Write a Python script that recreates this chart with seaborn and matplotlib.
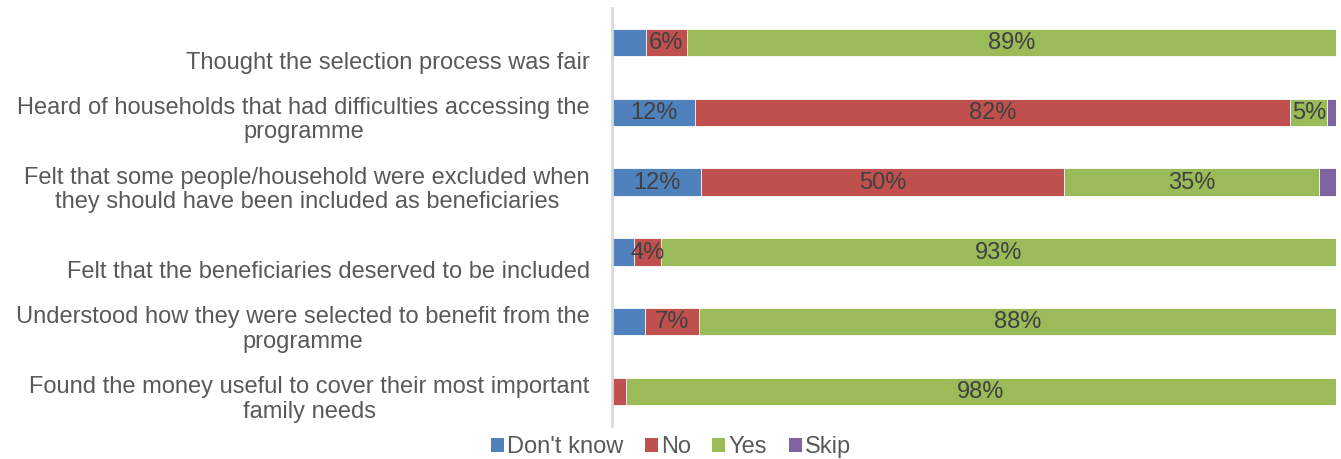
import matplotlib
matplotlib.use("Agg")
import matplotlib.pyplot as plt
import matplotlib.transforms as mtransforms
from matplotlib.patches import Patch
import seaborn as sns
import pandas as pd
import numpy as np

categories = [
    "Thought the selection process was fair",
    "Heard of households that had difficulties accessing the\nprogramme",
    "Felt that some people/household were excluded when\nthey should have been included as beneficiaries",
    "Felt that the beneficiaries deserved to be included",
    "Understood how they were selected to benefit from the\nprogramme",
    "Found the money useful to cover their most important\nfamily needs",
]
series = ["Don't know", "No", "Yes", "Skip"]
dont_know = [4.7, 11.5, 12.3, 3.0, 4.6, 0.0]
no = [5.6, 82.2, 50.1, 3.8, 7.4, 1.9]
yes = [89.7, 5.1, 35.3, 93.2, 88.0, 98.1]
skip = [0.0, 1.2, 2.3, 0.0, 0.0, 0.0]
# labels shown in the chart (None = not shown)
label_dk = [None, "12%", "12%", None, None, None]
label_no = ["6%", "82%", "50%", "4%", "7%", None]
label_yes = ["89%", "5%", "35%", "93%", "88%", "98%"]
label_skip = [None, None, None, None, None, None]

colors = ["#4F81BD", "#C0504D", "#9BBB59", "#8064A2"]

values = [dont_know, no, yes, skip]
labels = [label_dk, label_no, label_yes, label_skip]

sns.set_theme(style="white")
plt.rcParams["font.family"] = ["Liberation Sans", "DejaVu Sans"]

FS = 17

fig = plt.figure(figsize=(13.41, 4.59), dpi=100)
ax = fig.add_axes([612 / 1341, 1 - 426.4 / 459, (1336 - 612) / 1341, (426.4 - 7.6) / 459])

cum = np.cumsum(np.array(values), axis=0)
# draw cumulative totals from the outermost segment inward
for i in range(len(series) - 1, -1, -1):
    df = pd.DataFrame({"cat": categories, "val": cum[i]})
    sns.barplot(data=df, y="cat", x="val", orient="h", color=colors[i],
                width=0.39, saturation=1, ax=ax, edgecolor="white", linewidth=0.6)

left = np.zeros(len(categories))
for i in range(len(series)):
    for j in range(len(categories)):
        if labels[i][j]:
            ax.text(left[j] + values[i][j] / 2, j + 0.01, labels[i][j], ha="center", va="center",
                    fontsize=FS, color="#404040")
    left += np.array(values[i])

ax.set_xlim(0, 100)
ax.set_ylim(5.5, -0.5)
ax.set_xlabel("")
ax.set_ylabel("")
ax.set_xticks([])
for s in ["top", "right", "bottom"]:
    ax.spines[s].set_visible(False)
ax.spines["left"].set_color("#D9D9D9")
ax.spines["left"].set_linewidth(2)

ytl = [c if "\n" in c else "\n" + c for c in categories]
ax.set_yticks(range(len(categories)))
ax.set_yticklabels(ytl, fontsize=FS, color="#595959")
ax.tick_params(axis="y", length=0, pad=16)
offset = mtransforms.ScaledTranslation(0, -4.0 / 100, fig.dpi_scale_trans)
for lab in ax.get_yticklabels():
    lab.set_transform(lab.get_transform() + offset)
    lab.set_linespacing(1.15)
    lab.set_multialignment("center")

handles = [Patch(facecolor=c, edgecolor="none") for c in colors]
fig.legend(handles, series, loc="center", bbox_to_anchor=(671 / 1341, 1 - 447 / 459),
           ncol=4, frameon=False, fontsize=FS, handlelength=0.55, handleheight=0.55,
           handletextpad=0.15, columnspacing=0.9, labelcolor="#595959")

fig.savefig("out.png", dpi=100)
